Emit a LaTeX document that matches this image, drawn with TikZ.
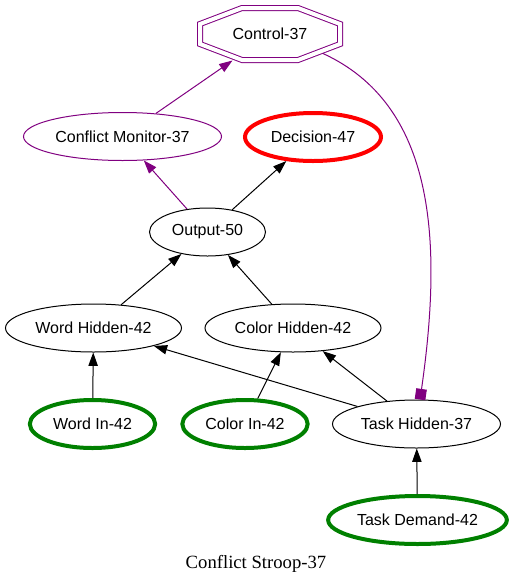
\documentclass[tikz,border=0pt]{standalone}
\usepackage{fontspec}
\setmainfont{Liberation Sans}
\newfontfamily\capfont{Liberation Serif}
\usepackage{xcolor}
\definecolor{Purp}{RGB}{128,0,128}
\definecolor{Grn}{RGB}{0,128,0}
\definecolor{Rd}{RGB}{255,0,0}
\usepackage{tikz}
\usetikzlibrary{shapes}
\usetikzlibrary{arrows.meta}
\tikzstyle{Unit}=[ellipse,draw=black,line width=.75pt,minimum height=36pt,
inner sep=0pt,font=\fontsize{12}{14}\selectfont]
\tikzstyle{Input}=[Unit,draw=Grn,line width=3pt]
\tikzstyle{Target}=[Unit,draw=Rd,line width=3pt]
\tikzstyle{Monitor}=[Unit,draw=Purp]
\tikzstyle{Ctrl}=[inner sep=0pt,font=\fontsize{12}{14}\selectfont]
\tikzstyle{CtrlLine}=[draw=Purp,double,double distance=3pt,line width=.75pt]
\tikzstyle{Edge}=[draw=black,line width=.75pt,-{Triangle[length=10pt,width=7pt]}]
\tikzstyle{CtlEdge}=[Edge,draw=Purp]
\tikzstyle{SigEdge}=[draw=Purp,line width=.75pt,-{Square[length=8pt,width=8pt]}]

\begin{document}
\begin{tikzpicture}[x=.75pt,y=-.75pt]
        \useasboundingbox(0,0)rectangle(513,583);
        \node[Ctrl](ctl)at(270,34){Control-37};
        \draw[CtrlLine](ctl.center)+(-28,-26)--+(28,-26)--+(70,-10)--+(70,10)
            --+(28,26)--+(-28,26)--+(-70,10)--+(-70,-10)--cycle;
        \coordinate(ctlin)at(232.5,60.5);
        \coordinate(ctlout)at(323,53.5);
        \node[Monitor,minimum width=148.5pt](cm)at(122.5,136.5){Conflict Monitor-37};
        \node[Target,minimum width=102pt](dec)at(313,137){Decision-47};
        \node[Unit,minimum width=87pt](out)at(207.5,232){Output-50};
        \node[Unit,minimum width=132pt](wh)at(93.5,328){Word Hidden-42};
        \node[Unit,minimum width=132pt](ch)at(293,328){Color Hidden-42};
        \node[Input,minimum width=94pt](wi)at(92.5,424){Word In-42};
        \node[Input,minimum width=94pt](ci)at(245,424){Color In-42};
        \node[Unit,minimum width=126pt](th)at(416.5,424){Task Hidden-37};
        \node[Input,minimum width=134pt](td)at(417.5,520){Task Demand-42};
        \node[font=\capfont\fontsize{14}{16}\selectfont,anchor=base](cap)at(256,568){Conflict Stroop-37};
        \draw[CtlEdge](cm)--(ctlin);
        \draw[CtlEdge](out)--(cm);
        \draw[Edge](out)--(dec);
        \draw[Edge](wh)--(out);
        \draw[Edge](ch)--(out);
        \draw[Edge](wi)--(wh);
        \draw[Edge](ci)--(ch);
        \draw[Edge](th)--(wh);
        \draw[Edge](th)--(ch);
        \draw[Edge](td)--(th);
        \draw[SigEdge](ctlout)..controls(435,105)and(443,240)..(th);
    \end{tikzpicture}
\end{document}
